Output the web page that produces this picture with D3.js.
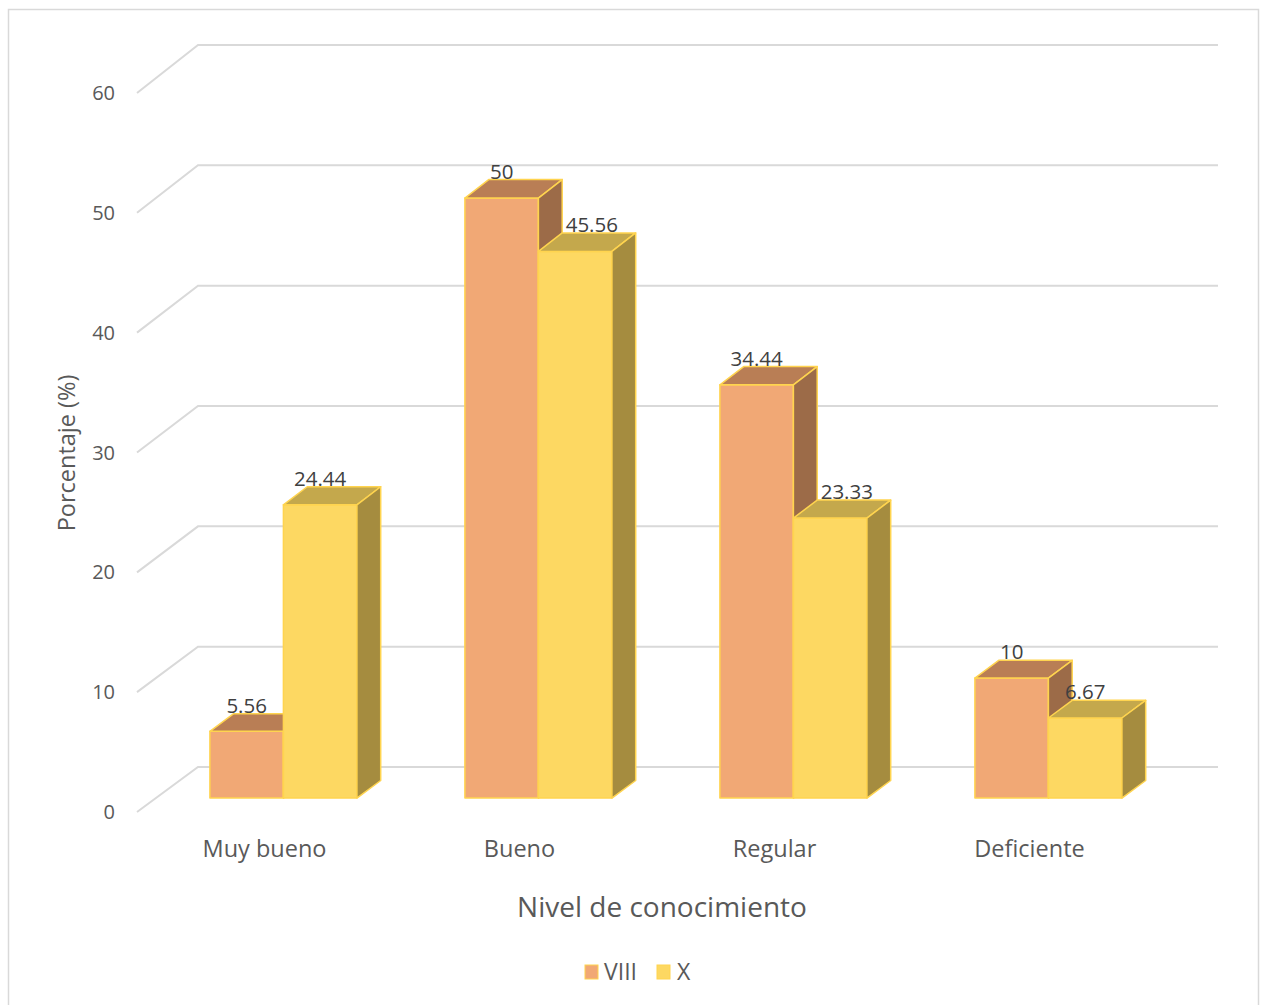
<!DOCTYPE html>
<html>
<head>
<meta charset="utf-8">
<script src="https://cdn.jsdelivr.net/npm/d3@7"></script>
<style>
  html, body { margin: 0; padding: 0; background: #fff; }
  svg { display: block; }
  text { font-family: "Open Sans", Lato, sans-serif; fill: #595959; }
</style>
</head>
<body>
<script>
// Porcentaje por nivel de conocimiento, ciclos VIII y X
const categories = ["Muy bueno", "Bueno", "Regular", "Deficiente"];
const seriesNames = ["VIII", "X"];
const valuesVIII = [5.56, 50, 34.44, 10];
const valuesX = [24.44, 45.56, 23.33, 6.67];
const yTicks = [0, 10, 20, 30, 40, 50, 60];
const xTitle = "Nivel de conocimiento";
const yTitle = "Porcentaje (%)";

const W = 1263, H = 1005;
const svg = d3.select("body").append("svg").attr("width", W).attr("height", H);

// chart frame
svg.append("rect").attr("x", 8.5).attr("y", 9.5).attr("width", 1250).attr("height", 1010)
  .attr("fill", "#fff").attr("stroke", "#d9d9d9").attr("stroke-width", 1.5);

const colors = {
  VIII: { front: "#F1A875", top: "#B97E55", side: "#9C6B48" },
  X:    { front: "#FDD862", top: "#C4A84C", side: "#A58C3F" }
};
const outline = "#FFD44F";

// oblique 3D: front plane (depth 0) and back wall (depth 1)
const xFront = d3.scaleBand().domain(categories).range([137, 1157]).padding(0);
const yFront = d3.scaleLinear().domain([0, 60]).range([812, 93]);
const yBack = d3.scaleLinear().domain([0, 60]).range([767, 45]);
const depthDX = 61;

// projected point: category-band x (front plane), value v, depth d in [0,1]
function P(x, v, d) {
  return [x + depthDX * d, yFront(v) + (yBack(v) - yFront(v)) * d];
}

// gridlines: back wall + side wall diagonal
const grid = svg.append("g");
yTicks.forEach(t => {
  const a = P(xFront.range()[0], t, 0), b = P(xFront.range()[0], t, 1), c = P(xFront.range()[1], t, 1);
  grid.append("path")
    .attr("d", d3.line()([a, b, c]))
    .attr("fill", "none").attr("stroke", "#d9d9d9").attr("stroke-width", 2);
  svg.append("text").attr("x", 115).attr("y", a[1]).attr("dy", "0.35em")
    .attr("text-anchor", "end").attr("font-size", 20).text(t);
});

// bars
const d0 = 0.31, d1 = 0.70;
const xInner = d3.scaleBand().domain(seriesNames).range([54, 201]).padding(0);
const seriesVals = { VIII: valuesVIII, X: valuesX };
const barsG = svg.append("g");
const labels = [];

categories.forEach((cat, i) => {
  seriesNames.forEach((s, j) => {
    const v = seriesVals[s][i];
    const x0 = xFront(cat) + xInner(s);
    const x1 = x0 + xInner.bandwidth();
    const fbl = P(x0, 0, d0), fbr = P(x1, 0, d0), ftl = P(x0, v, d0), ftr = P(x1, v, d0);
    const btl = P(x0, v, d1), btr = P(x1, v, d1), bbr = P(x1, 0, d1);
    const line = d3.line().curve(d3.curveLinearClosed);
    const g = barsG.append("g").attr("stroke", outline).attr("stroke-width", 1.5).attr("stroke-linejoin", "round");
    g.append("path").attr("d", line([fbl, fbr, ftr, ftl])).attr("fill", colors[s].front);
    g.append("path").attr("d", line([ftl, ftr, btr, btl])).attr("fill", colors[s].top);
    g.append("path").attr("d", line([fbr, bbr, btr, ftr])).attr("fill", colors[s].side);
    // label sits over the front-top edge; nudged right when the taller left neighbour's side face would cover it
    const prev = j > 0 ? seriesVals[seriesNames[j - 1]][i] : -Infinity;
    const nudge = prev - v > 4 ? (btr[0] - ftr[0]) * 0.7 : 0;
    labels.push({ x: (ftl[0] + ftr[0]) / 2 + nudge, y: btl[1], v });
  });
});

svg.append("g").selectAll("text").data(labels).join("text")
  .attr("x", d => d.x).attr("y", d => d.y - 1)
  .attr("text-anchor", "middle").attr("font-size", 20.5).style("fill", "#404040")
  .text(d => d.v);

// category labels along front edge
categories.forEach(cat => {
  svg.append("text").attr("x", xFront(cat) + xFront.bandwidth() / 2).attr("y", 849)
    .attr("dy", "0.35em").attr("text-anchor", "middle").attr("font-size", 23.5).text(cat);
});

// axis titles
svg.append("text").attr("x", 662).attr("y", 907).attr("dy", "0.35em")
  .attr("text-anchor", "middle").attr("font-size", 28).text(xTitle);
svg.append("text").attr("transform", "translate(67,453) rotate(-90)").attr("dy", "0.35em")
  .attr("text-anchor", "middle").attr("font-size", 23.5).text(yTitle);

// legend
const leg = svg.append("g");
const legItems = [{ name: "VIII", x: 585, tx: 604 }, { name: "X", x: 657, tx: 677 }];
legItems.forEach(it => {
  leg.append("rect").attr("x", it.x).attr("y", 965).attr("width", 13).attr("height", 14)
    .attr("fill", colors[it.name].front).attr("stroke", outline).attr("stroke-width", 1);
  leg.append("text").attr("x", it.tx).attr("y", 972).attr("dy", "0.35em")
    .attr("font-size", 23).text(it.name);
});
</script>
</body>
</html>
